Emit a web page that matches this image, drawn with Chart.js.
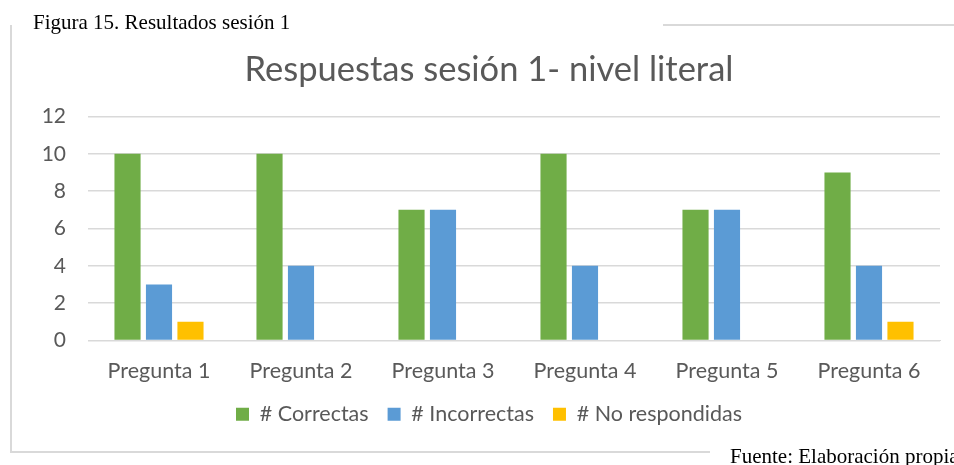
<!DOCTYPE html>
<html>
<head>
<meta charset="utf-8">
<script src="https://cdn.jsdelivr.net/npm/chart.js@4"></script>
<style>
  html, body { margin: 0; padding: 0; background: #fff; }
  #wrap { position: relative; width: 954px; height: 465px; overflow: hidden; }
  #chart { position: absolute; left: 0; top: 0; }
  .line { position: absolute; background: #d9d9d9; }
  .cap { position: absolute; font-family: "Liberation Serif", "DejaVu Serif", serif; color: #000; white-space: nowrap; }
</style>
</head>
<body>
<div id="wrap">
  <canvas id="chart" width="954" height="465"></canvas>
  <div class="line" style="left:10px; top:25px; width:2px; height:428px;"></div>
  <div class="line" style="left:663px; top:24px; width:291px; height:2px;"></div>
  <div class="line" style="left:10px; top:451px; width:700px; height:2px;"></div>
  <div class="cap" style="left:33px; top:10px; font-size:21px;">Figura 15. Resultados sesión 1</div>
  <div class="cap" style="left:730px; top:444px; font-size:21px;">Fuente: Elaboración propia</div>
</div>
<script>
/* Respuestas sesión 1 - nivel literal */
const categorias = ["Pregunta 1", "Pregunta 2", "Pregunta 3", "Pregunta 4", "Pregunta 5", "Pregunta 6"];
const correctas = [10, 10, 7, 10, 7, 9];
const incorrectas = [3, 4, 7, 4, 7, 4];
const noRespondidas = [1, 0, 0, 0, 0, 1];
const yTicks = [0, 2, 4, 6, 8, 10, 12];

const palette = {
  verde: "#70ad47",
  azul: "#5b9bd5",
  amarillo: "#ffc000",
  grid: "#d9d9d9",
  text: "#595959",
};

Chart.defaults.font.family = "Lato, 'Open Sans', sans-serif";
Chart.defaults.color = palette.text;

const ds = (label, data, color) => ({
  label, data, backgroundColor: color,
  categoryPercentage: 0.665, barPercentage: 0.83,
});

new Chart(document.getElementById("chart"), {
  type: "bar",
  data: {
    labels: categorias,
    datasets: [
      ds("# Correctas", correctas, palette.verde),
      ds("# Incorrectas", incorrectas, palette.azul),
      ds("# No respondidas", noRespondidas, palette.amarillo),
    ],
  },
  options: {
    responsive: false,
    animation: false,
    layout: { padding: { left: 38, right: 14, top: 0, bottom: 30 } },
    plugins: {
      title: {
        display: true,
        text: "Respuestas sesión 1- nivel literal",
        font: { size: 34.5, weight: "normal" },
        color: palette.text,
        padding: { top: 49, bottom: 26 },
      },
      legend: {
        position: "bottom",
        labels: { boxWidth: 13, boxHeight: 13, padding: 19, font: { size: 21.5 }, color: palette.text },
      },
      tooltip: { enabled: false },
    },
    scales: {
      x: {
        grid: { display: false, drawTicks: false },
        border: { color: palette.grid },
        afterFit: (s) => { s.height = 44; },
        ticks: { font: { size: 21.5 }, padding: 18, color: palette.text },
      },
      y: {
        min: 0, max: 12,
        afterBuildTicks: (s) => { s.ticks = yTicks.map((v) => ({ value: v })); },
        afterFit: (s) => { s.width = 50; },
        grid: { color: palette.grid, lineWidth: 1.5, drawTicks: false },
        border: { display: false },
        ticks: { font: { size: 21 }, padding: 22, color: palette.text },
      },
    },
  },
});
</script>
</body>
</html>
